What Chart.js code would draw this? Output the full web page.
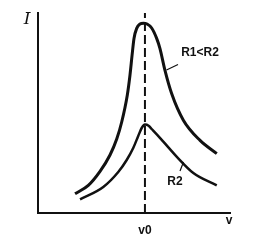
<!DOCTYPE html>
<html>
<head>
<meta charset="utf-8">
<script src="https://cdn.jsdelivr.net/npm/chart.js@4/dist/chart.umd.min.js"></script>
<style>
  html, body { margin: 0; padding: 0; background: #fff; }
  canvas { display: block; }
</style>
</head>
<body>
<canvas id="chart" width="264" height="247"></canvas>
<script>
// resonance curves (x: frequency, y: current, both 0..100)
const upperFreq = [19.3, 26.2, 32.3, 37.5, 41.0, 43.6, 46.5, 47.9, 49.0, 50.0, 51.4, 53.1, 54.9, 56.8, 59.2, 61.8, 63.5, 66.1, 69.6, 75.7, 84.4, 93.1];
const upperCurrent = [9.6, 13.8, 20.8, 29.0, 37.0, 45.5, 58.9, 68.9, 78.9, 87.3, 92.3, 94.5, 94.9, 94.5, 92.5, 87.3, 82.3, 71.4, 59.7, 46.4, 36.3, 29.7];
const lowerFreq = [21.9, 34.0, 41.8, 46.2, 49.6, 52.2, 54.0, 55.7, 57.6, 59.2, 63.5, 67.9, 72.2, 80.9, 93.1];
const lowerCurrent = [6.8, 13.0, 20.5, 26.5, 32.5, 38.5, 42.5, 44.2, 43.6, 42.0, 37.6, 32.8, 28.2, 20.0, 13.8];

const v0 = 55.7;
const xTickValues = [v0];
const xTickLabels = ['v0'];
const xAxisName = 'v';
const yAxisName = 'I';
const curveLabels = ['R1<R2', 'R2'];

const toPoints = (xs, ys) => xs.map((x, i) => ({ x: x, y: ys[i] }));

// axis names, curve labels and their leader strokes
const annotations = {
  id: 'annotations',
  afterDraw(chart) {
    const ctx = chart.ctx;
    const area = chart.chartArea;
    ctx.save();
    ctx.fillStyle = '#111';
    ctx.strokeStyle = '#111';
    ctx.textAlign = 'center';
    ctx.textBaseline = 'middle';

    ctx.font = 'italic 17px "DejaVu Serif"';
    ctx.fillText(yAxisName, 27, 20);

    ctx.font = 'bold 12px "Liberation Sans", Arial, sans-serif';
    ctx.fillText(xAxisName, area.right - 1, 221);
    ctx.fillText(curveLabels[0], 200, 53);
    ctx.fillText(curveLabels[1], 175, 182);

    ctx.lineWidth = 1.2;
    ctx.beginPath();
    ctx.moveTo(166.5, 70);
    ctx.lineTo(178, 64.5);
    ctx.moveTo(180, 171);
    ctx.lineTo(183.5, 162);
    ctx.stroke();
    ctx.restore();
  }
};

new Chart(document.getElementById('chart').getContext('2d'), {
  type: 'line',
  data: {
    datasets: [
      {
        data: toPoints(upperFreq, upperCurrent),
        borderColor: '#111',
        borderWidth: 3,
        pointRadius: 0,
        cubicInterpolationMode: 'monotone',
        clip: false
      },
      {
        data: toPoints(lowerFreq, lowerCurrent),
        borderColor: '#111',
        borderWidth: 2.5,
        pointRadius: 0,
        cubicInterpolationMode: 'monotone',
        clip: false
      },
      {
        data: [{ x: v0, y: 0 }, { x: v0, y: 100 }],
        borderColor: '#111',
        borderWidth: 2,
        borderDash: [9, 4],
        pointRadius: 0,
        clip: false
      }
    ]
  },
  options: {
    responsive: false,
    animation: false,
    devicePixelRatio: 1,
    layout: { padding: { top: 13, right: 34, left: 0, bottom: 0 } },
    plugins: {
      legend: { display: false },
      tooltip: { enabled: false }
    },
    scales: {
      x: {
        type: 'linear',
        min: 0,
        max: 100,
        grid: { display: false, drawTicks: false },
        border: { display: true, color: '#111', width: 2 },
        afterBuildTicks: (scale) => {
          scale.ticks = xTickValues.map(v => ({ value: v }));
        },
        afterFit: (scale) => { scale.height = 34; },
        ticks: {
          padding: 10,
          color: '#111',
          font: { family: '"Liberation Sans", Arial, sans-serif', size: 12, weight: 'bold' },
          callback: (value, index) => xTickLabels[index]
        }
      },
      y: {
        type: 'linear',
        min: 0,
        max: 100,
        grid: { display: false, drawTicks: false },
        border: { display: true, color: '#111', width: 2 },
        afterFit: (scale) => { scale.width = 38; },
        ticks: { display: false }
      }
    }
  },
  plugins: [annotations]
});
</script>
</body>
</html>
